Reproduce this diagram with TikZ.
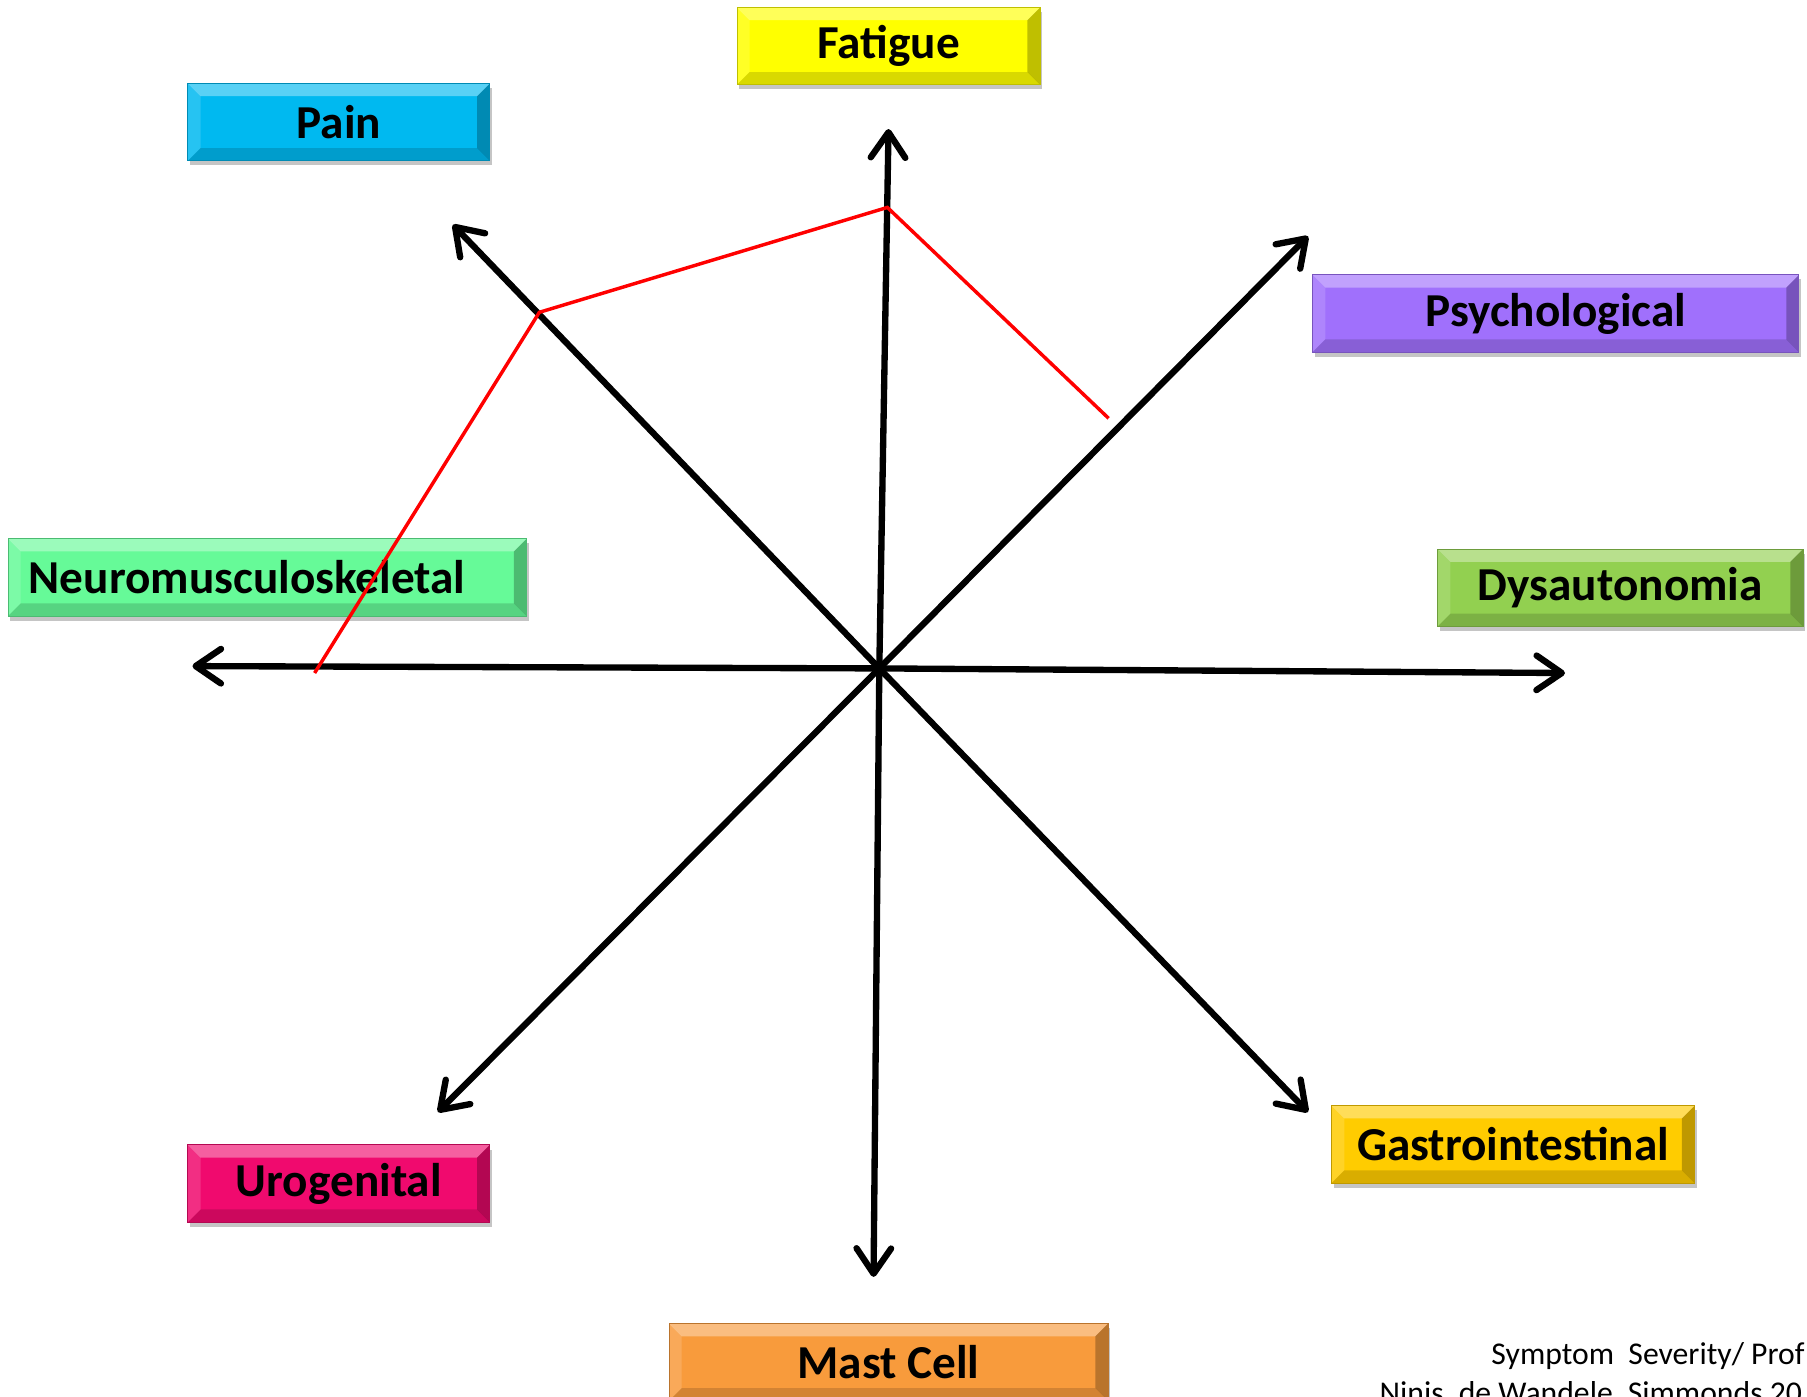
\documentclass[tikz,border=0pt]{standalone}
\usepackage{fontspec}
\setmainfont{Carlito}
\usetikzlibrary{arrows.meta,shadows}
\newcommand{\bvsz}{11pt}
\tikzset{
  btn/.style={fill=#1, draw=#1!75!black, line width=0.8pt, minimum height=67pt, inner sep=0pt,
    font=\bfseries\fontsize{41}{49}\selectfont, text=black,
    drop shadow={shadow xshift=2pt, shadow yshift=-4pt, fill=black!45, opacity=0.5},
    path picture={
      \path (path picture bounding box.north west) coordinate (bNW)
            (path picture bounding box.north east) coordinate (bNE)
            (path picture bounding box.south west) coordinate (bSW)
            (path picture bounding box.south east) coordinate (bSE);
      \path ([xshift=\bvsz,yshift=-\bvsz]bNW) coordinate (iNW)
            ([xshift=-\bvsz,yshift=-\bvsz]bNE) coordinate (iNE)
            ([xshift=\bvsz,yshift=\bvsz]bSW) coordinate (iSW)
            ([xshift=-\bvsz,yshift=\bvsz]bSE) coordinate (iSE);
      \fill[white,opacity=.35] (bNW)--(bNE)--(iNE)--(iNW)--cycle;
      \fill[white,opacity=.15] (bNW)--(iNW)--(iSW)--(bSW)--cycle;
      \fill[black,opacity=.15] (bSW)--(iSW)--(iSE)--(bSE)--cycle;
      \fill[black,opacity=.25] (bNE)--(bSE)--(iSE)--(iNE)--cycle;
    }},
  axis/.style={line width=5.5pt, line cap=round, line join=round,
    -{Straight Barb[length=22pt,width=30pt,line cap=round,line join=round]}},
  redline/.style={draw=red, line width=3pt, line join=miter},
  note/.style={font=\fontsize{27.5}{34}\selectfont, inner sep=0pt, anchor=base west}
}
\definecolor{cFat}{RGB}{255,255,0}
\definecolor{cPain}{RGB}{0,185,240}
\definecolor{cPsy}{RGB}{160,112,252}
\definecolor{cNeu}{RGB}{102,250,152}
\definecolor{cDys}{RGB}{146,208,80}
\definecolor{cGas}{RGB}{255,204,0}
\definecolor{cUro}{RGB}{240,10,110}
\definecolor{cMas}{RGB}{248,155,60}
\begin{document}
\begin{tikzpicture}[x=1pt,y=-1pt]
\useasboundingbox (0,0) rectangle (1568,1212);
\clip (0,0) rectangle (1568,1212);
\fill[white] (0,0) rectangle (1568,1212);

% boxes
\node[btn=cFat, minimum width=263pt] (fat) at (771,40) {Fatigue};
\node[btn=cPain, minimum width=262pt] (pain) at (294,106) {Pain};
\node[btn=cPsy, minimum width=422pt] (psy) at (1350,272) {Psychological};
\node[btn=cNeu, text width=414pt, inner xsep=18pt, align=left] (neu) at (232,501) {Neuromusculoskeletal};
\node[btn=cDys, minimum width=317pt] (dys) at (1406,510) {Dysautonomia};
\node[btn=cGas, minimum width=315pt] (gas) at (1313,993) {Gastrointestinal};
\node[btn=cUro, minimum width=262pt] (uro) at (294,1027) {Urogenital};
\node[btn=cMas, minimum width=381pt] (mas) at (771,1182) {Mast Cell};

% note text
\node[note] (n1) at (1294,1184) {Symptom\ \ Severity/ Prof};
\node[note] (n2) at (1197,1218) {Ninis, de Wandele, Simmonds 20};

% axes
\coordinate (O) at (763,580);
\coordinate (tN) at (771,112);
\coordinate (tS) at (758,1108);
\coordinate (tW) at (167,578);
\coordinate (tE) at (1358,584);
\coordinate (tNW) at (393,195);
\coordinate (tNE) at (1135,205);
\coordinate (tSW) at (380,965);
\coordinate (tSE) at (1135,965);
\foreach \t in {tN,tS,tW,tE,tNW,tNE,tSW,tSE}
  \draw[axis] (O) -- (\t);

% severity profile
\coordinate (r1) at (273,584);
\coordinate (r2) at (468,271);
\coordinate (r3) at (770,180);
\coordinate (r4) at (962,363);
\draw[redline] (r1) -- (r2) -- (r3) -- (r4);
\end{tikzpicture}
\end{document}
